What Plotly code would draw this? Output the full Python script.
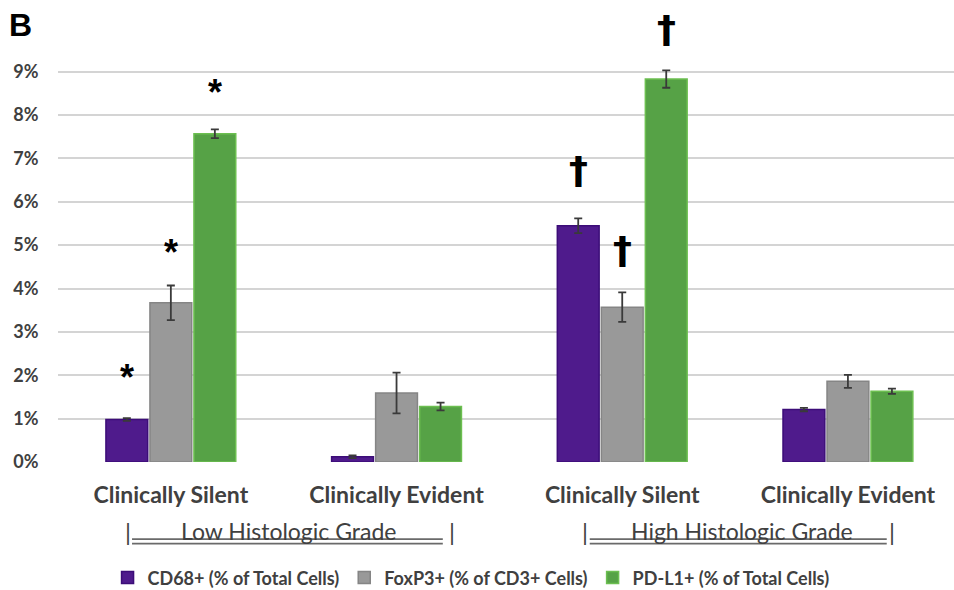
import plotly.graph_objects as go

categories = ["Clinically Silent", "Clinically Evident", "Clinically Silent ", "Clinically Evident "]
tick_text = ["Clinically Silent", "Clinically Evident", "Clinically Silent", "Clinically Evident"]
series_names = ["CD68+ (% of Total Cells)", "FoxP3+ (% of CD3+ Cells)", "PD-L1+ (% of Total Cells)"]
cd68 = [0.98, 0.12, 5.45, 1.21]
cd68_err = [0.03, 0.03, 0.17, 0.04]
foxp3 = [3.67, 1.59, 3.57, 1.86]
foxp3_err = [0.40, 0.47, 0.34, 0.15]
pdl1 = [7.57, 1.28, 8.83, 1.63]
pdl1_err = [0.10, 0.09, 0.20, 0.06]
y_ticks = [0, 1, 2, 3, 4, 5, 6, 7, 8, 9]
y_tick_labels = [f"{v}%" for v in y_ticks]
group_labels = ["Low Histologic Grade", "High Histologic Grade"]
# significance marks: (series index, category index, symbol)
marks = [(0, 0, "*"), (1, 0, "*"), (2, 0, "*"), (0, 2, "†"), (1, 2, "†"), (2, 2, "†")]
mark_gaps = [1.18, 1.0, 1.08, 1.12, 0.97, 0.96]

fills = ["#4f1b8c", "#999999", "#56a246"]
edges = ["#3c0d78", "#858585", "#6cbf50"]
values = [cd68, foxp3, pdl1]
errors = [cd68_err, foxp3_err, pdl1_err]

fig = go.Figure()
for name, vals, errs, fc, ec in zip(series_names, values, errors, fills, edges):
    fig.add_trace(go.Bar(
        x=list(range(len(categories))), y=vals, name=name,
        marker=dict(color=fc, line=dict(color=ec, width=1.5)),
        error_y=dict(type="data", array=errs, visible=True, color="#3a3a3a",
                     thickness=1.8, width=4),
    ))

offsets = [-0.195, 0.0, 0.195]
annotations = []
for (s, c, sym), gap in zip(marks, mark_gaps):
    top = values[s][c] + errors[s][c]
    if sym == "*":
        annotations.append(dict(x=c + offsets[s], y=top + gap, xref="x", yref="y",
                                text="<b>*</b>", showarrow=False, yanchor="middle",
                                yshift=-10,
                                font=dict(family="Liberation Sans", size=36, color="#000000")))
    else:
        annotations.append(dict(x=c + offsets[s], y=top + gap, xref="x", yref="y",
                                text="<b>†</b>", showarrow=False, yanchor="middle",
                                font=dict(family="DejaVu Sans", size=38, color="#000000")))

# group labels under the category labels (per-group extents of the bracket)
group_centers = [0.5, 2.5]
text_shift = [0.023, 0.03]
bar_left = [-0.69, -0.666]
bar_right = [0.745, 0.695]
line_left = [-0.672, -0.644]
line_right = [0.705, 0.672]
shapes = []
for g, label in enumerate(group_labels):
    gc = group_centers[g]
    annotations.append(dict(x=gc + text_shift[g], y=-0.153, xref="x", yref="paper", text=label,
                            showarrow=False, yanchor="middle",
                            font=dict(family="Lato", size=23, color="#404040")))
    for bx in (bar_left[g], bar_right[g]):
        annotations.append(dict(x=gc + bx, y=-0.153, xref="x", yref="paper", text="|",
                                showarrow=False, yanchor="middle",
                                font=dict(family="Lato", size=24, color="#404040")))
    for yy in (-0.171, -0.181):
        shapes.append(dict(type="line", xref="x", yref="paper",
                           x0=gc + line_left[g], x1=gc + line_right[g], y0=yy, y1=yy,
                           line=dict(color="#6a6a6a", width=1.6)))

annotations.append(dict(x=0, y=1, xref="paper", yref="paper", xanchor="left",
                        yanchor="top", text="<b>B</b>", showarrow=False,
                        xshift=-51, yshift=6,
                        font=dict(family="Liberation Sans", size=32, color="#000000")))

fig.update_layout(
    width=954, height=590,
    margin=dict(l=58, r=0, t=11, b=128, autoexpand=False),
    paper_bgcolor="white", plot_bgcolor="white",
    barmode="group", bargap=0.415, bargroupgap=0.05,
    showlegend=True,
    legend=dict(orientation="h", x=0.461, xanchor="center", y=-0.257, yanchor="middle",
                font=dict(family="Lato", size=18, color="#404040", weight="bold"),
                itemwidth=30, traceorder="normal"),
    xaxis=dict(tickmode="array", tickvals=list(range(len(categories))), ticktext=tick_text,
               range=[-0.5, 3.47], showgrid=False, showline=False, zeroline=False,
               ticks="outside", ticklen=12, tickcolor="rgba(0,0,0,0)",
               tickfont=dict(family="Lato", size=23, color="#404040", weight="bold"),
               automargin=False),
    yaxis=dict(range=[0, 10.4], tickmode="array", tickvals=y_ticks, ticktext=y_tick_labels,
               showgrid=True, gridcolor="#d4d4d4", gridwidth=2, zeroline=False,
               showline=False, ticks="outside", ticklen=15, tickcolor="rgba(0,0,0,0)",
               tickfont=dict(family="Lato", size=18, color="#404040", weight="bold"),
               automargin=False),
    annotations=annotations, shapes=shapes,
    font=dict(family="Lato"),
)

fig.write_html("out.html", config={"displayModeBar": False},
               post_script="document.body.style.margin='0px';")
